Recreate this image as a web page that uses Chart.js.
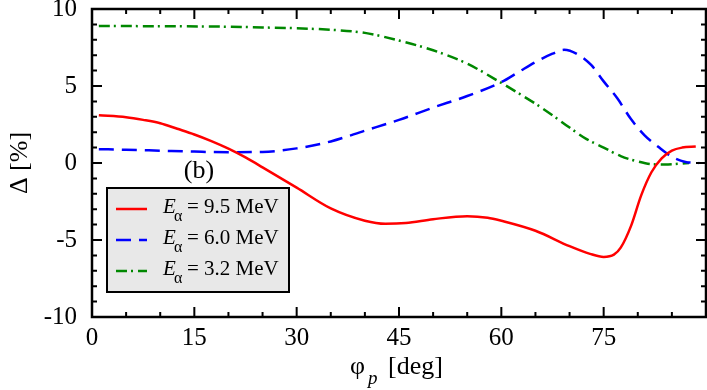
<!DOCTYPE html>
<html lang="en">
<head>
<meta charset="UTF-8">
<title>Delta vs phi_p</title>
<script src="https://cdn.jsdelivr.net/npm/chart.js"></script>
<style>
  html, body { margin: 0; padding: 0; background: #fff; }
  #wrap { width: 707px; height: 390px; position: relative; }
</style>
</head>
<body>
<div id="wrap"><canvas id="deltaChart"></canvas></div>
<script>
// phi_p [deg] and Delta [%] for each alpha energy
const phi95   = [1, 5, 7.5, 10, 12.5, 15, 17.5, 20, 22.5, 25, 30, 35, 40, 43, 46, 50, 55, 58, 60, 65, 70, 73, 75, 76.5, 77.5, 79, 80.5, 82, 83.5, 85, 86.5, 88.5];
const delta95 = [3.1, 2.97, 2.8, 2.58, 2.22, 1.85, 1.42, 0.93, 0.36, -0.28, -1.6, -2.95, -3.75, -3.95, -3.9, -3.65, -3.45, -3.55, -3.75, -4.4, -5.4, -5.9, -6.1, -5.95, -5.5, -4.1, -2.1, -0.6, 0.3, 0.8, 1.0, 1.07];

const phi60   = [1, 5, 10, 15, 20, 25, 30, 35, 40, 45, 50, 55, 60, 62.5, 65, 67.5, 69.2, 71.4, 73.2, 75, 77, 79, 81, 83, 85, 87, 89];
const delta60 = [0.9, 0.86, 0.8, 0.74, 0.7, 0.72, 0.95, 1.4, 2.1, 2.8, 3.6, 4.35, 5.25, 5.9, 6.55, 7.1, 7.35, 7.0, 6.35, 5.3, 4.2, 2.85, 1.8, 1.05, 0.4, 0.07, 0];

const phi32   = [1, 10, 20, 25, 30, 35, 40, 45, 50, 55, 60, 63, 65, 67.5, 70, 72.5, 75, 77.5, 80, 82, 84, 86, 87.5];
const delta32 = [8.9, 8.88, 8.85, 8.8, 8.75, 8.65, 8.45, 7.95, 7.32, 6.45, 5.2, 4.4, 3.85, 3.1, 2.3, 1.55, 1.0, 0.45, 0.1, -0.08, -0.1, -0.05, 0];

const seriesLabels = ['9.5 MeV', '6.0 MeV', '3.2 MeV'];
const xTicks = [0, 15, 30, 45, 60, 75];
const yTicks = [-10, -5, 0, 5, 10];

const colors = ['#ff0000', '#0000ff', '#008800'];
const dashes = [[], [15, 8], [11, 4, 2, 5]];
const serif = "'Liberation Serif', 'DejaVu Serif', serif";

function toPoints(xs, ys) {
  return xs.map((x, i) => ({ x: x, y: ys[i] }));
}

// frame, inward ticks, axis titles, legend box and panel label
const decorations = {
  id: 'decorations',
  afterDraw(chart) {
    const ctx = chart.ctx;
    const a = chart.chartArea;
    const xs = chart.scales.x, ys = chart.scales.y;
    ctx.save();
    ctx.strokeStyle = '#000';
    ctx.lineWidth = 2.5;
    ctx.setLineDash([]);
    ctx.strokeRect(a.left, a.top, a.right - a.left, a.bottom - a.top);

    ctx.lineWidth = 2;
    ctx.beginPath();
    for (let v = 0; v <= 90; v += 5) {
      const px = xs.getPixelForValue(v);
      const len = v % 15 === 0 ? 10 : 5;
      ctx.moveTo(px, a.bottom); ctx.lineTo(px, a.bottom - len);
      ctx.moveTo(px, a.top); ctx.lineTo(px, a.top + len);
    }
    for (let v = -10; v <= 10; v += 1) {
      const py = ys.getPixelForValue(v);
      const len = v % 5 === 0 ? 10 : 5;
      ctx.moveTo(a.left, py); ctx.lineTo(a.left + len, py);
      ctx.moveTo(a.right, py); ctx.lineTo(a.right - len, py);
    }
    ctx.stroke();

    // x title: phi_p [deg]
    ctx.fillStyle = '#000';
    ctx.textBaseline = 'alphabetic';
    ctx.textAlign = 'left';
    ctx.font = '26px ' + serif;
    ctx.fillText('\u03c6', 350, 374);
    ctx.font = 'italic 19px ' + serif;
    ctx.fillText('p', 368, 384);
    ctx.font = '26px ' + serif;
    ctx.fillText('[deg]', 388, 374);

    // y title: Delta [%]
    ctx.save();
    ctx.translate(27, 163);
    ctx.rotate(-Math.PI / 2);
    ctx.textAlign = 'center';
    ctx.font = '26px ' + serif;
    ctx.fillText('\u0394 [%]', 0, 0);
    ctx.restore();

    // panel label
    ctx.textAlign = 'center';
    ctx.font = '26px ' + serif;
    ctx.fillText('(b)', 199, 178);

    // legend box
    ctx.fillStyle = '#e8e8e8';
    ctx.fillRect(107, 188, 182, 104);
    ctx.lineWidth = 2;
    ctx.strokeStyle = '#000';
    ctx.strokeRect(107, 188, 182, 104);
    const rows = [209, 240, 271];
    seriesLabels.forEach((lab, i) => {
      const y = rows[i];
      ctx.strokeStyle = colors[i];
      ctx.lineWidth = 2.5;
      ctx.setLineDash(dashes[i]);
      ctx.beginPath();
      ctx.moveTo(116, y); ctx.lineTo(147, y);
      ctx.stroke();
      ctx.setLineDash([]);
      ctx.fillStyle = '#000';
      ctx.textAlign = 'left';
      ctx.font = 'italic 21px ' + serif;
      ctx.fillText('E', 163, y + 4);
      ctx.font = '16px ' + serif;
      ctx.fillText('\u03b1', 174, y + 12);
      ctx.font = '21px ' + serif;
      ctx.fillText('= ' + lab, 187, y + 4);
    });
    ctx.restore();
  }
};

const ctx = document.getElementById('deltaChart').getContext('2d');
new Chart(ctx, {
  type: 'line',
  data: {
    datasets: [
      { label: seriesLabels[0], data: toPoints(phi95, delta95) },
      { label: seriesLabels[1], data: toPoints(phi60, delta60) },
      { label: seriesLabels[2], data: toPoints(phi32, delta32) }
    ].map((d, i) => Object.assign(d, {
      borderColor: colors[i],
      borderWidth: 2.5,
      borderDash: dashes[i],
      pointRadius: 0,
      fill: false,
      cubicInterpolationMode: 'monotone'
    }))
  },
  options: {
    responsive: true,
    maintainAspectRatio: false,
    animation: false,
    layout: { padding: { top: 9, right: 1, left: 0, bottom: 0 } },
    plugins: { legend: { display: false }, tooltip: { enabled: false } },
    scales: {
      x: {
        type: 'linear', min: 0, max: 90,
        afterFit: s => { s.height = 73; s.paddingLeft = 0; s.paddingRight = 0; },
        afterBuildTicks: s => { s.ticks = xTicks.map(v => ({ value: v })); },
        grid: { display: false, drawTicks: false },
        border: { display: false },
        ticks: { color: '#000', padding: 6, font: { family: serif, size: 25 } }
      },
      y: {
        min: -10, max: 10,
        afterFit: s => { s.width = 92; s.paddingTop = 0; s.paddingBottom = 0; },
        afterBuildTicks: s => { s.ticks = yTicks.map(v => ({ value: v })); },
        grid: { display: false, drawTicks: false },
        border: { display: false },
        ticks: { color: '#000', padding: 15, font: { family: serif, size: 25 } }
      }
    }
  },
  plugins: [decorations]
});
</script>
</body>
</html>
